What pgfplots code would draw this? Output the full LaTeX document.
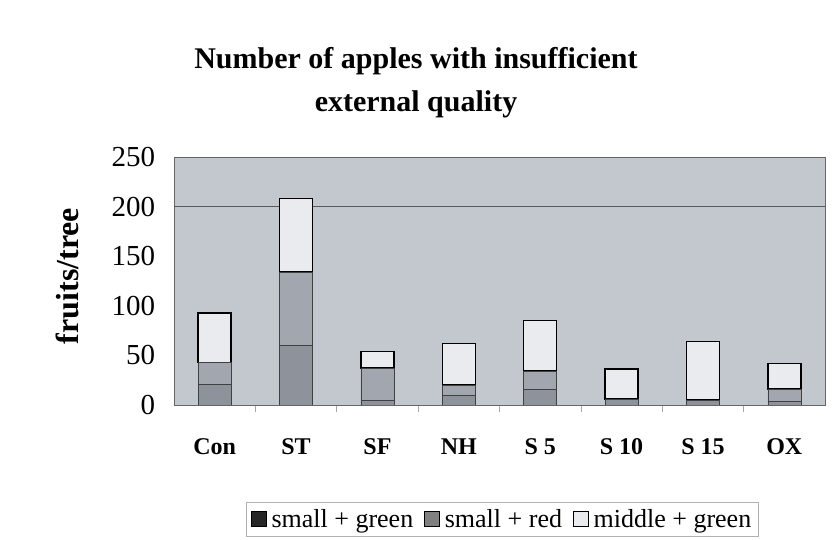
\documentclass[border=0pt]{standalone}
\usepackage{pgfplots}
\pgfplotsset{compat=1.18}
\usepackage{fontspec}
\setmainfont{Liberation Serif}
\definecolor{bgc}{HTML}{C3C7CE}
\definecolor{sgc}{HTML}{8E929B}
\definecolor{src}{HTML}{A2A6AE}
\definecolor{mgc}{HTML}{E9EBEF}
\begin{document}
\begin{tikzpicture}[x=1pt,y=1pt]
\path[use as bounding box] (-174,-135) rectangle (662,405);
\begin{axis}[at={(0,0)}, anchor=south west, scale only axis,
  width=651pt, height=248pt,
  ybar stacked, bar width=33pt,
  xmin=-0.5, xmax=7.5, ymin=0, ymax=250,
  axis background/.style={fill=bgc},
  axis line style={draw=gray!80!black, line width=0.5pt},
  xtick pos=bottom, ytick pos=left,
  xtick={0,...,7}, xticklabels={Con,ST,SF,NH,S 5,S 10,S 15,OX},
  minor x tick num=1,
  major x tick style={draw=none},
  minor x tick style={draw=gray!70, line width=0.5pt},
  minor tick length=7pt, tick align=outside,
  x tick label style={font=\fontsize{24}{26}\selectfont\bfseries, text height=17pt, text depth=2pt, yshift=-25pt},
  ytick={0,50,...,250},
  ytick style={draw=none},
  y tick label style={font=\fontsize{29}{31}\selectfont, xshift=-11pt},
  /pgf/number format/assume math mode=true,
  extra y ticks={200}, extra y tick labels={},
  extra y tick style={grid=major, major grid style={draw=gray!70!black, line width=0.6pt}},
  ylabel={fruits/tree},
  ylabel style={font=\fontsize{32}{34}\selectfont\bfseries, at={(axis description cs:-0.164,0.52)}, rotate=0, anchor=center},
  legend style={at={(0.504,-0.46)}, anchor=center, legend columns=3, draw=gray!60,
    font=\fontsize{26}{28}\selectfont, inner xsep=5pt, inner ysep=5pt,
    /tikz/every even column/.append style={column sep=9pt},
    /tikz/every odd column/.append style={column sep=3pt}},
  legend image code/.code={\draw[#1, line width=0.6pt] (0pt,-7pt) rectangle (15pt,8pt);},
]
\addplot[forget plot, fill=sgc, draw=black!75, line width=0.6pt]
  coordinates {(0,21)(1,60)(2,5)(3,10)(4,16)(5,6)(6,5)(7,4)};
\addplot[forget plot, fill=src, draw=black!75, line width=0.6pt]
  coordinates {(0,22)(1,74)(2,32)(3,10)(4,18)(5,0)(6,0)(7,12)};
\addplot[forget plot, fill=mgc, draw=black, line width=1.6pt]
  coordinates {(0,50)(1,74)(2,17)(3,42)(4,51)(5,30)(6,59)(7,26)};
\addlegendimage{fill=black!85, draw=black}
\addlegendentry{small + green}
\addlegendimage{fill=gray, draw=black}
\addlegendentry{small + red}
\addlegendimage{fill=mgc, draw=black}
\addlegendentry{middle + green}
\end{axis}
\node[align=center, font=\fontsize{30}{43}\selectfont\bfseries] at (242,322)
  {Number of apples with insufficient\\external quality};
\end{tikzpicture}
\end{document}
